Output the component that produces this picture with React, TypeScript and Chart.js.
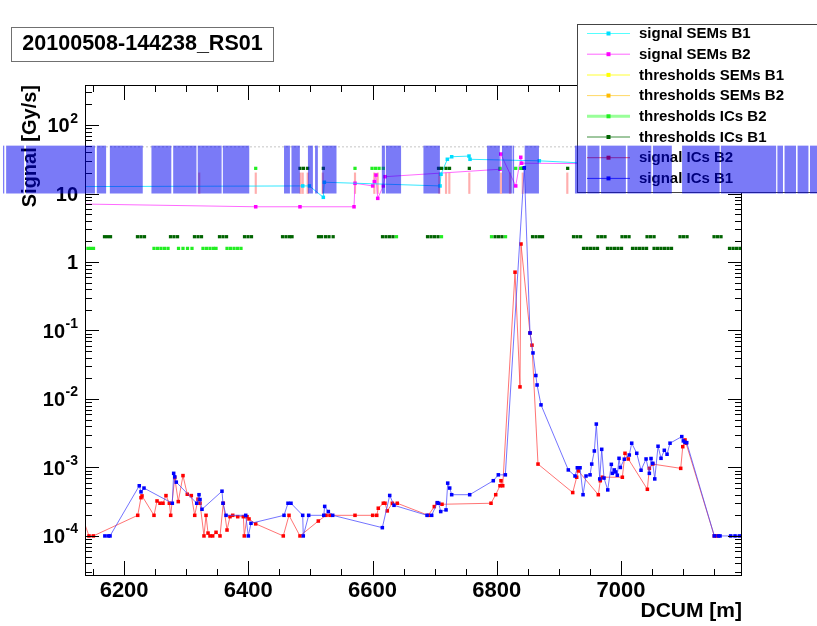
import React, { useEffect, useRef } from 'react';
import { Chart, registerables } from 'chart.js';

Chart.register(...registerables);

const TITLE = '20100508-144238_RS01';
const X_TITLE = 'DCUM [m]';
const Y_TITLE = 'Signal [Gy/s]';
const X_MIN = 6137;
const X_MAX = 7195;
const Y_MIN = 2.6e-5;
const Y_MAX = 384;
const X_TICK_STEP = 50;
const X_LABEL_STEP = 200;

// [DCUM, signal]
const signalICsB1: [number, number][] = [
  [6169, 1e-4], [6174.5, 1e-4], [6177.3, 1e-4], [6224.4, 5.4e-4], [6227.2, 4.4e-4], [6232, 5e-4],
  [6277.6, 3e-4], [6279.8, 8.2e-4], [6281.5, 7.3e-4], [6284, 6.1e-4], [6316.9, 3e-4], [6320.6, 4e-4],
  [6322.2, 3.4e-4], [6325.4, 2.45e-4], [6357.6, 4.5e-4], [6359.2, 3e-4], [6364.1, 2e-4], [6395.8, 2e-4],
  [6400, 1e-4], [6404.3, 1.53e-4], [6457.5, 2e-4], [6463.9, 3e-4], [6468.7, 3e-4], [6487.6, 2e-4],
  [6488.5, 1e-4], [6497.2, 2e-4], [6521.5, 2e-4], [6523, 2.7e-4], [6528.8, 2.27e-4], [6535.9, 2e-4],
  [6615.8, 1.32e-4], [6627.7, 3.9e-4], [6634.6, 2.8e-4], [6687.8, 2e-4], [6695.3, 2e-4], [6704.3, 3.06e-4],
  [6706.6, 3e-4], [6709.8, 2.27e-4], [6718.4, 2.4e-4], [6721.1, 5.9e-4], [6724.3, 5e-4], [6727.5, 4e-4],
  [6756.5, 4e-4], [6794.5, 6.4e-4], [6802.6, 7.8e-4], [6813.9, 7.8e-4], [6844.4, 23.8], [6853.6, 0.092],
  [6858.4, 0.047], [6863, 0.022], [6865, 0.016], [6871.3, 0.0082], [6915.3, 9.2e-4], [6926.1, 7.5e-4],
  [6929.8, 9.9e-4], [6934.2, 9.9e-4], [6939, 4e-4], [6943.8, 7.5e-4], [6950.3, 7.8e-4], [6953, 1.12e-3],
  [6957.2, 1.74e-3], [6960.4, 4.3e-3], [6965.9, 6.8e-4], [6969.1, 1.84e-3], [6972.8, 7e-4], [6978.8, 4.7e-4],
  [6984.6, 1.11e-3], [6986.2, 8.2e-4], [6989.4, 9.2e-4], [6991.6, 8.6e-4], [6994.2, 7.7e-4], [6997, 1.36e-3],
  [6999.1, 1e-3], [7005.5, 1.32e-3], [7013.5, 1.52e-3], [7017.4, 2.26e-3], [7025.5, 1.61e-3], [7032.4, 9.1e-4],
  [7040.5, 1.33e-3], [7045.8, 8.2e-4], [7048.5, 1.35e-3], [7051.3, 1.15e-3], [7054.5, 6.8e-4], [7059.8, 2.04e-3],
  [7064.6, 1.36e-3], [7069.9, 1.78e-3], [7074.3, 1.56e-3], [7079.1, 2.26e-3], [7098, 2.82e-3], [7100.5, 2.44e-3],
  [7103.2, 2.33e-3], [7106, 2.3e-3], [7150.4, 1e-4], [7156.9, 1e-4], [7159.6, 1e-4], [7176.8, 1e-4],
  [7183.8, 1e-4], [7190.7, 1e-4],
];

const signalICsB2: [number, number][] = [
  [6133.8, 1.77e-4], [6143.4, 1e-4], [6150.4, 1e-4], [6221.9, 2e-4], [6227.2, 3.62e-4], [6228.8, 3.84e-4],
  [6248.1, 2e-4], [6253, 3.24e-4], [6257.8, 3e-4], [6262.6, 3e-4], [6267.4, 3.88e-4], [6272.8, 3e-4],
  [6275, 2e-4], [6281.5, 7.1e-4], [6287.2, 3.17e-4], [6294.8, 7.6e-4], [6301.7, 4.06e-4], [6308.2, 3.88e-4],
  [6313.7, 2e-4], [6319, 3.44e-4], [6322.2, 3e-4], [6328.6, 1e-4], [6331.9, 2e-4], [6335.1, 1.1e-4],
  [6338.3, 1e-4], [6342.6, 1e-4], [6348, 1.13e-4], [6354.4, 1e-4], [6359.7, 3e-4], [6365.7, 1.22e-4],
  [6370.5, 1.91e-4], [6374.9, 2e-4], [6382.9, 1.91e-4], [6392, 1.91e-4], [6393.5, 1e-4], [6397.9, 1.91e-4],
  [6401.1, 1.77e-4], [6411.9, 1.5e-4], [6456.3, 1e-4], [6465.5, 2e-4], [6483.2, 1e-4], [6512.7, 1.65e-4],
  [6525.1, 2e-4], [6531.6, 2e-4], [6571.8, 2e-4], [6600.3, 2e-4], [6606.8, 2e-4], [6609.3, 2.54e-4],
  [6617.4, 3e-4], [6620.1, 3e-4], [6623.8, 2.32e-4], [6631.9, 3e-4], [6639.9, 3e-4], [6689.8, 2e-4],
  [6699.5, 2.68e-4], [6704.3, 3e-4], [6711.9, 2.9e-4], [6790.8, 3e-4], [6798.4, 4e-4], [6805.3, 5.4e-4],
  [6806.9, 6.4e-4], [6809.7, 5.4e-4], [6829.5, 0.71], [6837.5, 0.015], [6839.1, 1.83], [6853.6, 0.092],
  [6856.8, 0.061], [6866.5, 1.12e-3], [6922.4, 4.3e-4], [6928.8, 7.2e-4], [6931.4, 8.9e-4], [6963.6, 4e-4],
  [6966.8, 6.4e-4], [6970.1, 7.2e-4], [7002.3, 7.2e-4], [7006.6, 1.61e-3], [7011.9, 1.33e-3], [7042.6, 4.8e-4],
  [7045.8, 9.7e-4], [7051.3, 1.12e-3], [7096.3, 9.7e-4], [7099.6, 2.01e-3], [7103.2, 2.52e-3], [7104.9, 2.26e-3],
  [7150.4, 1e-4], [7154.3, 1e-4],
];

const signalSEMsB1: [number, number][] = [
  [6100, 12.6], [6487.6, 12.9], [6498.3, 12.9], [6520.8, 8.8], [6522.4, 14.6], [6708.7, 12.9],
  [6710.3, 19.1], [6720.5, 31.6], [6727.5, 34.4], [6755.4, 35.2], [6757, 31.6], [6868.6, 30],
  [6934, 28], [7250, 27],
];

const signalSEMsB2: [number, number][] = [
  [6100, 7.1], [6411.9, 6.4], [6483.2, 6.4], [6570.2, 6.4], [6571.8, 14.1], [6600.3, 12.9],
  [6602.9, 14.9], [6605.6, 18.6], [6608.4, 8.5], [6617.4, 12.9], [6620.1, 17.6], [6805.3, 22.6],
  [6806.5, 37.7], [6830.6, 12.9], [6838.7, 33.8], [6840.3, 27.7], [7250, 26],
];

// threshold levels [Gy/s]
const THR_HIGH = 2.34;
const THR_LOW = 1.58;
const THR_TOP = 23.3;
const THR_SEM = 48;

const thrICsB1High = [
  6168.4, 6173.2, 6178.1, 6221.5, 6227.2, 6232.8, 6274.7, 6280.3, 6286, 6313.3, 6319, 6324.6,
  6353.6, 6359.2, 6364.9, 6393.9, 6399.5, 6405.1, 6455.1, 6460.7, 6466.3, 6470.4, 6513, 6517.9,
  6524.3, 6529.9, 6536.6, 6616.1, 6621.7, 6627.4, 6633, 6688.6, 6694.2, 6699.8, 6705.5, 6797.3,
  6802.9, 6808.5, 6857.7, 6863.3, 6869, 6873.8, 6923.7, 6929.3, 6935, 6963.1, 6968.8, 6974.4,
  7001.8, 7007.4, 7013.1, 7042.1, 7047.7, 7053.4, 7095.2, 7100.8, 7106.5, 7150, 7155.6, 7161.2,
];
const thrICsB1Low = [
  6939.8, 6945.4, 6951.1, 6956.7, 6962.3, 6978.4, 6984, 6989.7, 6995.3, 7001, 7018.7, 7024.3,
  7030, 7035.6, 7041.3, 7053.4, 7059, 7064.6, 7070.3, 7075.9, 7081.5, 7174.9, 7180.6, 7186.2, 7191.8,
];
const thrICsB1Top = [6483.2, 6488.9, 6495.6, 6520.8, 6706.3, 6711.1, 6718.4, 6724, 6755.9, 6840.7, 6844.4, 6914.3];

const thrICsB2Low = [
  6141.8, 6145.9, 6150.7, 6248.1, 6253.8, 6259.4, 6265, 6270.7, 6287.6, 6294.8, 6302.1, 6309.3,
  6327, 6332.7, 6338.3, 6343.9, 6348, 6365.7, 6371.3, 6377, 6382.6, 6388.2,
];
const thrICsB2High = [6638.6, 6711.1, 6791.6, 6814.2];
const thrICsB2Top = [6411.9, 6571.8, 6599.2, 6604.8, 6610.5, 6617.4, 6805.3, 6830.6, 6838.7];

const thrSEMsB1 = [6100, 7250];
const thrSEMsB2: number[] = [];

// vertical pink markers [DCUM] spanning [low, high]
const spikeDcum = [6321, 6412, 6484, 6487.6, 6495.6, 6519.8, 6571.8, 6602.9, 6608.4, 6707.6, 6718.4, 6723.7, 6755.9, 6806.9, 6821.4, 6841.9, 6913.7];
const SPIKE_LOW = 10;
const SPIKE_HIGH = 20;

// blue band segments [DCUM start, DCUM end], spanning [BAND_LOW, BAND_HIGH]
const BAND_LOW = 10;
const BAND_HIGH = 50;
const bandSegments: [number, number][] = [
  [6005, 6007], [6010, 6039], [6042, 6153], [6156, 6171], [6177, 6230], [6244, 6276], [6279, 6316.5],
  [6318.5, 6357], [6359, 6401.5], [6457.5, 6467], [6469.5, 6483], [6496, 6504], [6507.5, 6512],
  [6519, 6542], [6615, 6620], [6621.5, 6646], [6682, 6708.5], [6784.5, 6805], [6808.5, 6824.5],
  [6825.5, 6828], [6845, 6868], [6926, 6944], [6946, 6965.5], [6968, 7008], [7010.5, 7049],
  [7051.5, 7082], [7098.5, 7159], [7161, 7250], [7252, 7261], [7263.5, 7282], [7284.5, 7302], [7304.5, 7316],
];

const FONT = '"Liberation Sans", Arial, Helvetica, sans-serif';

const pts = (arr: [number, number][]) => arr.map(([x, y]) => ({ x, y }));
const lvl = (arr: number[], y: number) => arr.map((x) => ({ x, y }));

const isPow10 = (v: number) => Math.abs(Math.log10(v) - Math.round(Math.log10(v))) < 1e-9;

function logTicks(min: number, max: number) {
  const out: { value: number }[] = [];
  for (let e = Math.floor(Math.log10(min)); e <= Math.ceil(Math.log10(max)); e++) {
    for (let m = 1; m <= 9; m++) {
      const v = m * Math.pow(10, e);
      if (v >= min && v <= max) out.push({ value: v });
    }
  }
  return out;
}

const rootPlugin = {
  id: 'rootStyle',
  afterDatasetsDraw(chart: any) {
    const { ctx, chartArea: a, scales } = chart;
    const xs = scales.x;
    const ys = scales.y;
    ctx.save();
    ctx.strokeStyle = '#000';
    ctx.lineWidth = 1;
    ctx.strokeRect(a.left + 0.5, a.top + 0.5, a.right - a.left - 1, a.bottom - a.top - 1);
    ctx.beginPath();
    for (const t of xs.ticks) {
      const px = Math.round(xs.getPixelForValue(t.value)) + 0.5;
      const len = t.value % X_LABEL_STEP === 0 ? 15 : 7;
      ctx.moveTo(px, a.bottom);
      ctx.lineTo(px, a.bottom - len);
      ctx.moveTo(px, a.top);
      ctx.lineTo(px, a.top + len);
    }
    for (const t of ys.ticks) {
      const py = Math.round(ys.getPixelForValue(t.value)) + 0.5;
      const len = isPow10(t.value) ? 14 : 7;
      ctx.moveTo(a.left, py);
      ctx.lineTo(a.left + len, py);
      ctx.moveTo(a.right, py);
      ctx.lineTo(a.right - len, py);
    }
    ctx.stroke();

    // y labels with exponents
    ctx.fillStyle = '#000';
    ctx.textBaseline = 'alphabetic';
    const right = 78;
    for (const t of ys.ticks) {
      if (!isPow10(t.value)) continue;
      const e = Math.round(Math.log10(t.value));
      const py = ys.getPixelForValue(t.value);
      if (e === 0 || e === 1) {
        ctx.font = `bold 20px ${FONT}`;
        ctx.textAlign = 'right';
        ctx.fillText(e === 0 ? '1' : '10', right, py + 7.3);
      } else {
        const ex = String(e);
        ctx.font = `bold 14px ${FONT}`;
        const ew = ctx.measureText(ex).width;
        ctx.textAlign = 'right';
        ctx.fillText(ex, right, py - 2.5);
        ctx.font = `bold 20px ${FONT}`;
        ctx.fillText('10', right - ew - 0.5, py + 7.3);
      }
    }
    ctx.restore();
  },
  afterDraw(chart: any) {
    const { ctx, scales } = chart;
    const xs = scales.x;
    const ys = scales.y;
    ctx.save();
    // title box
    ctx.fillStyle = '#fff';
    ctx.fillRect(11, 27, 262, 34);
    ctx.strokeStyle = '#707070';
    ctx.lineWidth = 1;
    ctx.strokeRect(11.5, 27.5, 262, 34);
    ctx.fillStyle = '#000';
    ctx.font = `bold 21.5px ${FONT}`;
    ctx.textAlign = 'center';
    ctx.textBaseline = 'middle';
    ctx.fillText(TITLE, 142.5, 44.5);

    // legend
    const lx = 577.5;
    const ly = 24.5;
    ctx.fillStyle = '#fff';
    ctx.fillRect(lx, ly, 260, 168);
    ctx.strokeStyle = '#444';
    ctx.strokeRect(lx, ly, 260, 168);
    const ds = chart.data.datasets.filter((d: any) => d.legendRow !== undefined);
    ds.sort((p: any, q: any) => p.legendRow - q.legendRow);
    ds.forEach((d: any, i: number) => {
      const y = 33.5 + i * 20.7;
      ctx.strokeStyle = d.legendLine;
      ctx.lineWidth = d.legendWidth;
      ctx.beginPath();
      ctx.moveTo(587, y);
      ctx.lineTo(630, y);
      ctx.stroke();
      ctx.fillStyle = d.pointBackgroundColor;
      ctx.fillRect(606.5, y - 2, 4, 4);
      ctx.fillStyle = '#000';
      ctx.font = `bold 15px ${FONT}`;
      ctx.textAlign = 'left';
      ctx.textBaseline = 'middle';
      ctx.fillText(d.label, 639, y + 0.5);
    });

    // blue band on top of everything
    const yTop = ys.getPixelForValue(BAND_HIGH);
    const yBot = ys.getPixelForValue(BAND_LOW);
    ctx.fillStyle = 'rgba(0,0,240,0.52)';
    for (const [s, e] of bandSegments) {
      const x0 = xs.getPixelForValue(s);
      const x1 = xs.getPixelForValue(e);
      ctx.fillRect(x0, yTop, x1 - x0, yBot - yTop);
    }
    ctx.restore();
  },
};

export default function App() {
  const ref = useRef<HTMLCanvasElement | null>(null);
  useEffect(() => {
    document.body.style.margin = '0';
    const canvas = ref.current;
    if (!canvas) return;
    const sq = (c: string) => ({
      pointStyle: 'rect', pointRadius: 2.5, pointBackgroundColor: c, pointBorderWidth: 0, pointBorderColor: c,
    });
    const chart = new Chart(canvas, {
      type: 'line',
      data: {
        datasets: [
          { label: 'signal SEMs B1', legendRow: 0, legendLine: '#55ffff', legendWidth: 1, data: pts(signalSEMsB1), borderColor: 'rgba(0,225,255,0.8)', borderWidth: 1, ...sq('#00ddff'), order: 3, clip: 0 },
          { label: 'signal SEMs B2', legendRow: 1, legendLine: '#ff66ff', legendWidth: 1, data: pts(signalSEMsB2), borderColor: 'rgba(255,80,255,0.85)', borderWidth: 1, ...sq('#ff00ff'), order: 3, clip: 0 },
          { label: 'thresholds SEMs B1', legendRow: 2, legendLine: '#ffff99', legendWidth: 2, data: lvl(thrSEMsB1, THR_SEM), borderColor: 'rgba(190,190,190,0.9)', borderDash: [2, 2], borderWidth: 1, pointRadius: 0, pointBackgroundColor: '#ffff00', order: 4, clip: 0 },
          { label: 'thresholds SEMs B2', legendRow: 3, legendLine: '#ffd966', legendWidth: 1, data: lvl(thrSEMsB2, THR_SEM), borderColor: '#ffd966', borderWidth: 1, ...sq('#ffbb00'), order: 4, clip: 0 },
          { label: 'thresholds ICs B2', legendRow: 4, legendLine: '#99ff99', legendWidth: 3, data: [...lvl(thrICsB2Low, THR_LOW), ...lvl(thrICsB2High, THR_HIGH), ...lvl(thrICsB2Top, THR_TOP)], showLine: false, ...sq('#22ee22'), pointRadius: 2.3, order: 2, clip: 0 },
          { label: 'thresholds ICs B1', legendRow: 5, legendLine: '#3f8f3f', legendWidth: 1, data: [...lvl(thrICsB1High, THR_HIGH), ...lvl(thrICsB1Low, THR_LOW), ...lvl(thrICsB1Top, THR_TOP)], showLine: false, ...sq('#006400'), pointRadius: 2.3, order: 2, clip: 0 },
          { label: 'signal ICs B2', legendRow: 6, legendLine: '#ff5050', legendWidth: 1, data: pts(signalICsB2), borderColor: 'rgba(255,70,70,0.75)', borderWidth: 1, ...sq('#ff0000'), order: 1, clip: 0 },
          { label: 'signal ICs B1', legendRow: 7, legendLine: '#4040ff', legendWidth: 1, data: pts(signalICsB1), borderColor: 'rgba(70,70,255,0.75)', borderWidth: 1, ...sq('#0000ff'), order: 0, clip: 0 },
          { type: 'bar', label: 'spikes', data: spikeDcum.map((x) => ({ x, y: [SPIKE_LOW, SPIKE_HIGH] })), backgroundColor: 'rgba(255,120,120,0.6)', barThickness: 1.5, borderWidth: 0, order: 5, clip: 0 },
        ] as any,
      },
      options: {
        animation: false,
        responsive: false,
        events: [],
        layout: { padding: { top: 85, right: 75, left: 0, bottom: 0 } },
        plugins: { legend: { display: false }, tooltip: { enabled: false } },
        scales: {
          x: {
            type: 'linear', min: X_MIN, max: X_MAX, offset: false,
            grid: { display: false, drawTicks: false }, border: { display: false },
            ticks: {
              stepSize: X_TICK_STEP, includeBounds: false, autoSkip: false, maxRotation: 0, minRotation: 0,
              padding: 2, color: '#000', font: { family: FONT, size: 22, weight: 'bold' },
              callback: (v: any) => (Number(v) % X_LABEL_STEP === 0 ? String(v) : ''),
            },
            title: { display: true, text: X_TITLE, align: 'end', color: '#000', font: { family: FONT, size: 21, weight: 'bold' }, padding: { top: 0, bottom: 2 } },
            afterFit: (s: any) => { s.height = 50; },
          },
          y: {
            type: 'logarithmic', min: Y_MIN, max: Y_MAX,
            grid: { display: false, drawTicks: false }, border: { display: false },
            ticks: { display: false },
            afterBuildTicks: (s: any) => { s.ticks = logTicks(Y_MIN, Y_MAX); },
            title: { display: true, text: Y_TITLE, align: 'end', color: '#000', font: { family: FONT, size: 20, weight: 'bold' }, padding: { top: 18, bottom: 0 } },
            afterFit: (s: any) => { s.width = 85; },
          },
        },
      } as any,
      plugins: [rootPlugin],
    });
    return () => chart.destroy();
  }, []);
  return (
    <div style={{ position: 'absolute', left: 0, top: 0, width: 817, height: 626, background: '#fff' }}>
      <canvas ref={ref} width={817} height={626} style={{ width: 817, height: 626 }} />
    </div>
  );
}
